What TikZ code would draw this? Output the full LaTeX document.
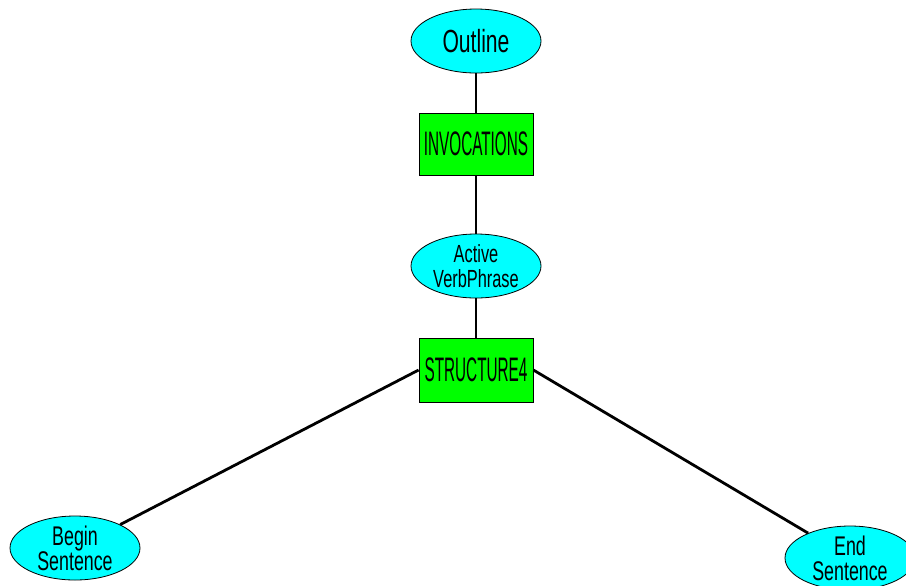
\documentclass[tikz,border=0pt]{standalone}
\usepackage{fontspec}
\setmainfont{Liberation Sans}
\newfontfamily\phrasefont[FakeStretch=0.66]{Liberation Sans}
\newfontfamily\rulefont[FakeStretch=0.45]{Liberation Sans}
\usetikzlibrary{shapes.geometric}
\definecolor{aqua}{RGB}{0,255,255}
\definecolor{lime}{RGB}{0,255,0}

\begin{document}
\begin{tikzpicture}[
        node distance=52pt,
        phrase/.style={ellipse, draw, fill=aqua, inner sep=0pt, minimum width=65pt, minimum height=32pt, align=center, font=\phrasefont\fontsize{13.5}{12.5}\selectfont},
        rule/.style={rectangle, draw, fill=lime, inner sep=0pt, minimum width=57pt, minimum height=32pt, font=\rulefont\fontsize{17}{18}\selectfont},
        link/.style={line width=1.4pt}
    ]
    \useasboundingbox (0,0) rectangle (453pt,-292.5pt);
    \node[phrase, font=\phrasefont\fontsize{16}{18}\selectfont] (outline) at (238pt,-20.5pt) {Outline};
    \node[rule, below of=outline, node distance=51.5pt, minimum height=31pt] (invocations) {INVOCATIONS};
    \node[phrase, below of=invocations, node distance=61pt, font=\phrasefont\fontsize{12.4}{12.5}\selectfont] (verbphrase) {Active\\VerbPhrase};
    \node[rule, below of=verbphrase] (structure) {STRUCTURE4};
    \node[phrase] (begin) at (37.5pt,-274pt) {Begin\\Sentence};
    \node[phrase] (end) at (425pt,-279pt) {End\\Sentence};
    \draw[link] (outline) -- (invocations);
    \draw[link] (invocations) -- (verbphrase);
    \draw[link] (verbphrase) -- (structure);
    \draw[link] (structure.west) -- (begin);
    \draw[link] (structure.east) -- (end);
    \end{tikzpicture}
\end{document}
